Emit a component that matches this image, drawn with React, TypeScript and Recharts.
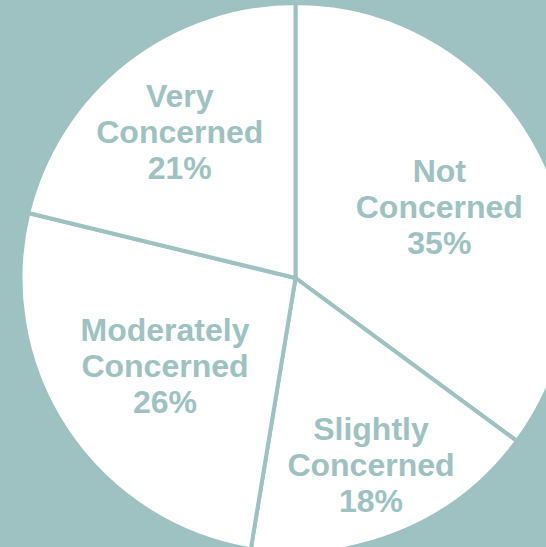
import { Pie, PieChart, Cell } from "recharts";

const categories = ["Not Concerned", "Slightly Concerned", "Moderately Concerned", "Very Concerned"];
const shares = [35.1, 17.5, 26.2, 21.2];

const labelRadius = [0.586, 0.728, 0.569, 0.681];

const TEAL = "#9dc2c1";

const data = categories.map((name, i) => ({ name, value: shares[i] }));

const RADIAN = Math.PI / 180;

function renderLabel(props: any) {
  const { cx, cy, midAngle, outerRadius, index, name, value } = props;
  const r = outerRadius * labelRadius[index];
  const x = cx + r * Math.cos(-midAngle * RADIAN);
  const y = cy + r * Math.sin(-midAngle * RADIAN) + 1.5;
  const words = name.split(" ");
  const lines = [...words, `${Math.round(value)}%`];
  const lh = 36;
  const top = y - ((lines.length - 1) * lh) / 2;
  return (
    <text
      x={x}
      y={top}
      textAnchor="middle"
      dominantBaseline="central"
      fill={TEAL}
      fontSize={32}
      fontWeight="bold"
      fontFamily="'Liberation Sans', Arial, sans-serif"
    >
      {lines.map((l, i) => (
        <tspan key={i} x={x} y={top + i * lh}>
          {l}
        </tspan>
      ))}
    </text>
  );
}

export default function App() {
  return (
    <div style={{ position: "fixed", left: 0, top: 0, width: 546, height: 547, background: TEAL }}>
      <PieChart width={546} height={547} margin={{ top: 0, right: 0, bottom: 0, left: 0 }}>
        <Pie
          data={data}
          dataKey="value"
          nameKey="name"
          cx={295.5}
          cy={278}
          outerRadius={275}
          startAngle={90}
          endAngle={-270}
          stroke={TEAL}
          strokeWidth={4}
          label={renderLabel}
          labelLine={false}
          isAnimationActive={false}
        >
          {data.map((d) => (
            <Cell key={d.name} fill="#ffffff" />
          ))}
        </Pie>
      </PieChart>
    </div>
  );
}
